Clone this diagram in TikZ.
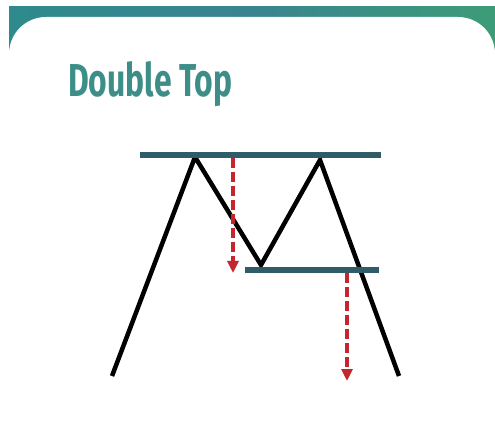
\documentclass[tikz,border=0pt]{standalone}
\usepackage{fontspec}
\setmainfont{Fira Sans}
\usetikzlibrary{arrows.meta}
\definecolor{bandL}{HTML}{2E8A8C}
\definecolor{bandM}{HTML}{3A8490}
\definecolor{bandR}{HTML}{3C9C78}
\definecolor{titlecol}{HTML}{3D8E88}
\definecolor{levelcol}{HTML}{2F5C68}
\definecolor{arrowred}{HTML}{C4262E}
\tikzset{
  level/.style={draw=levelcol, line width=6.5pt},
  price/.style={draw=black, line width=4.5pt, line join=miter, line cap=butt},
  drop/.style={draw=arrowred, line width=3.6pt, dash pattern=on 10pt off 4pt,
    -{Triangle[length=12pt,width=11pt]}}
}
\begin{document}
\begin{tikzpicture}[x=1pt,y=-1pt]
\useasboundingbox (0,0) rectangle (495,430);
\fill[white] (0,0) rectangle (495,430);
% top band
\shade[left color=bandL, right color=bandR, middle color=bandM] (9,7) rectangle (495,70);
% white card
\fill[white, rounded corners=37pt] (9,17) rectangle (495,470);
% title
\node[anchor=base west, inner sep=0pt, text=titlecol] (title) at (68,97)
  {\resizebox{164pt}{35pt}{\bfseries Double Top}};
% levels
\coordinate (r1a) at (140,155);
\coordinate (r1b) at (381,155);
\coordinate (r2a) at (245,270);
\coordinate (r2b) at (379,270);
% price path
\coordinate (p0) at (112,376);
\coordinate (p1) at (195,157);
\coordinate (p2) at (261,265);
\coordinate (p3) at (320,160);
\coordinate (p4) at (399,376);
\draw[price] (p0) -- (p1) -- (p2) -- (p3) -- (p4);
\draw[level] (r1a) -- (r1b);
\draw[level] (r2a) -- (r2b);
% arrows
\coordinate (a1s) at (233,158);
\coordinate (a1e) at (233,273);
\coordinate (a2s) at (347,273);
\coordinate (a2e) at (347,381);
\draw[drop] (a1s) -- (a1e);
\draw[drop] (a2s) -- (a2e);
\end{tikzpicture}
\end{document}
